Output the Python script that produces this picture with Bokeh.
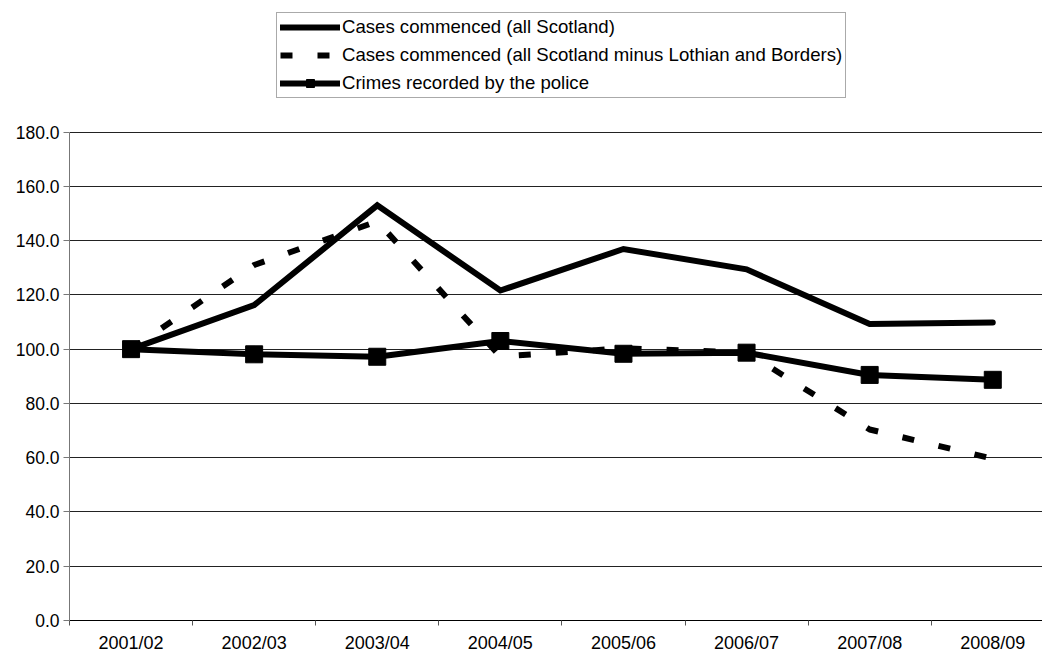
from bokeh.plotting import figure
from bokeh.models import (Range1d, FixedTicker, Legend, LegendItem,
                          NumeralTickFormatter)
from bokeh.embed import file_html
from bokeh.resources import INLINE

years = ["2001/02", "2002/03", "2003/04", "2004/05",
         "2005/06", "2006/07", "2007/08", "2008/09"]
all_scotland = [100.0, 116.2, 153.0, 121.6, 136.9, 129.4, 109.3, 109.8]
minus_lothian = [100.0, 131.0, 147.1, 97.3, 100.3, 98.8, 70.4, 59.6]
crimes_police = [100.0, 98.1, 97.2, 103.0, 98.3, 98.7, 90.5, 88.7]
y_ticks = [0, 20, 40, 60, 80, 100, 120, 140, 160, 180]

FONT = "Liberation Sans"

xs = [i + 0.5 for i in range(len(years))]

# frame spans full height; data area 0..180 occupies lower 490 px of 622
Y_TOP = 180 * 622 / 490

p = figure(width=1042, height=655, output_backend="svg", toolbar_location=None,
           x_range=Range1d(0, 7.904), y_range=Range1d(0, Y_TOP),
           min_border_left=69, min_border_right=0, min_border_top=0,
           min_border_bottom=33)
p.outline_line_color = None
p.background_fill_color = "white"
p.border_fill_color = "white"

# x axis: labels at category centres, tick marks at category boundaries
p.xaxis.ticker = FixedTicker(ticks=xs, minor_ticks=list(range(0, len(years))))
p.xaxis.major_label_overrides = {x: lab for x, lab in zip(xs, years)}
p.xaxis.major_tick_out = 0
p.xaxis.major_tick_in = 0
p.xaxis.minor_tick_out = 5
p.xaxis.minor_tick_in = 0
p.xaxis.minor_tick_line_color = "#555555"
p.xaxis.axis_line_color = "black"
p.xaxis.axis_line_width = 1
p.xaxis.major_label_standoff = 7
p.xaxis.major_label_text_font = FONT
p.xaxis.major_label_text_font_size = "18px"
p.xaxis.major_label_text_color = "black"
p.xgrid.grid_line_color = None

p.yaxis.ticker = FixedTicker(ticks=y_ticks)
p.yaxis.bounds = (0, 180)
p.yaxis.formatter = NumeralTickFormatter(format="0.0")
p.yaxis.major_tick_out = 6
p.yaxis.major_tick_in = 0
p.yaxis.minor_tick_line_color = None
p.yaxis.major_tick_line_color = "#777777"
p.yaxis.axis_line_color = "#777777"
p.yaxis.major_label_standoff = 4
p.yaxis.major_label_text_font = FONT
p.yaxis.major_label_text_font_size = "17.5px"
p.yaxis.major_label_text_color = "black"
p.ygrid.grid_line_color = "#222222"
p.ygrid.grid_line_width = 1

r1 = p.line(xs, all_scotland, line_color="black", line_width=6,
            line_cap="round", line_join="miter")
r2 = p.line(xs, minus_lothian, line_color="black", line_width=6,
            line_dash="12 25", line_cap="butt")
r3 = p.line(xs, crimes_police, line_color="black", line_width=6,
            line_cap="round")
r4 = p.scatter(xs, crimes_police, marker="square", size=17,
               fill_color="black", line_color="black")

legend = Legend(items=[
    LegendItem(label="Cases commenced (all Scotland)", renderers=[r1]),
    LegendItem(label="Cases commenced (all Scotland minus Lothian and Borders)", renderers=[r2]),
    LegendItem(label="Crimes recorded by the police", renderers=[r3, r4]),
], location=(207, 522))
legend.label_text_font = FONT
legend.label_text_font_size = "18.6px"
legend.label_text_color = "black"
legend.glyph_width = 60
legend.glyph_height = 20
legend.label_height = 20
legend.label_standoff = 2
legend.spacing = 6
legend.padding = 3
legend.margin = 0
legend.border_line_color = "#555555"
legend.border_line_width = 1
legend.background_fill_color = "white"
legend.background_fill_alpha = 1.0
p.add_layout(legend, "center")

open("out.html", "w").write(file_html(p, INLINE))
